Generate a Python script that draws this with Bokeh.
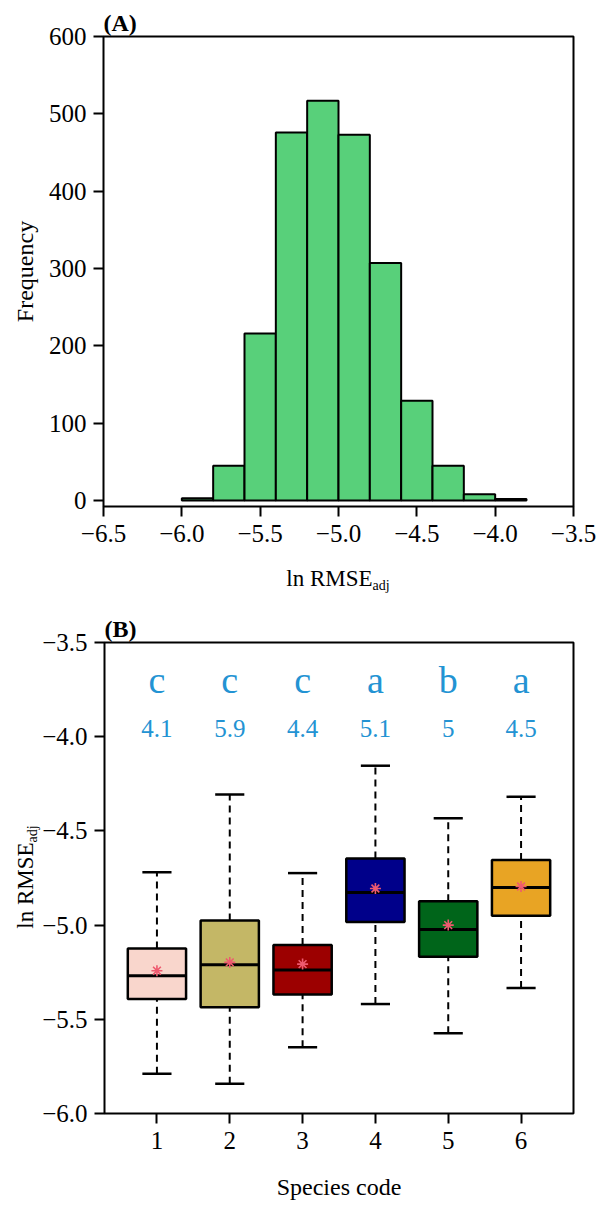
import numpy as np
from bokeh.plotting import figure
from bokeh.models import Range1d, FixedTicker, ColumnDataSource, Div
from bokeh.layouts import column, row
from bokeh.core.properties import value
from bokeh.embed import file_html
from bokeh.resources import INLINE

# ---------------- data ----------------
# Panel A: histogram of ln RMSE_adj
bin_left = [-6.0, -5.8, -5.6, -5.4, -5.2, -5.0, -4.8, -4.6, -4.4, -4.2, -4.0]
bin_right = [-5.8, -5.6, -5.4, -5.2, -5.0, -4.8, -4.6, -4.4, -4.2, -4.0, -3.8]
counts = [3, 45, 216, 476, 517, 473, 307, 129, 45, 8, 2]
a_xticks = [-6.5, -6.0, -5.5, -5.0, -4.5, -4.0, -3.5]
a_xtick_labels = ["\u22126.5", "\u22126.0", "\u22125.5", "\u22125.0", "\u22124.5", "\u22124.0", "\u22123.5"]
a_yticks = [0, 100, 200, 300, 400, 500, 600]
a_ytick_labels = ["0", "100", "200", "300", "400", "500", "600"]

# Panel B: boxplots by species
species = [1, 2, 3, 4, 5, 6]
whisker_low = [-5.789, -5.842, -5.649, -5.419, -5.574, -5.334]
q1 = [-5.392, -5.436, -5.369, -4.984, -5.168, -4.951]
median = [-5.269, -5.210, -5.238, -4.827, -5.023, -4.800]
q3 = [-5.124, -4.975, -5.106, -4.647, -4.873, -4.655]
whisker_high = [-4.719, -4.307, -4.724, -4.154, -4.433, -4.319]
means = [-5.242, -5.198, -5.207, -4.806, -5.000, -4.795]
group_letters = ["c", "c", "c", "a", "b", "a"]
group_values = ["4.1", "5.9", "4.4", "5.1", "5", "4.5"]
box_colors = ["#F9D6CC", "#C4B766", "#9C0000", "#00008A", "#00651A", "#E8A424"]
b_yticks = [-6.0, -5.5, -5.0, -4.5, -4.0, -3.5]
b_ytick_labels = ["\u22126.0", "\u22125.5", "\u22125.0", "\u22124.5", "\u22124.0", "\u22123.5"]
b_xticks = [1, 2, 3, 4, 5, 6]
b_xtick_labels = ["1", "2", "3", "4", "5", "6"]

FONT = "Liberation Serif"
TICK_FS = "25px"
LAB_FS = "24px"
BLUE = "#2393D3"


def style(p):
    p.grid.visible = False
    p.outline_line_color = "black"
    p.outline_line_width = 2
    p.background_fill_color = "white"
    p.border_fill_color = None
    for ax in (p.xaxis[0], p.yaxis[0]):
        ax.axis_line_color = None
        ax.major_tick_out = 10
        ax.major_tick_in = 0
        ax.major_tick_line_width = 2
        ax.major_tick_line_color = "black"
        ax.minor_tick_line_color = None
        ax.major_label_text_font = FONT
        ax.major_label_text_font_size = TICK_FS
        ax.major_label_text_color = "black"
        ax.axis_label_text_font = FONT
        ax.axis_label_text_font_size = LAB_FS
        ax.axis_label_text_font_style = "normal"
        ax.axis_label_text_color = "black"
    p.yaxis[0].major_label_standoff = 7
    p.xaxis[0].major_label_standoff = 8
    p.title.text_font = FONT
    p.title.text_font_size = "24px"
    p.title.text_font_style = "bold"
    p.title.text_color = "black"
    p.title.align = "left"
    p.title.standoff = 1


LABEL_CSS = ("position:absolute;white-space:nowrap;font-family:'Liberation Serif';"
             "font-size:23px;color:#000;line-height:1;")
SUB_CSS = "font-size:14px;position:relative;top:4px;"

# ---------------- Panel A ----------------
pA = figure(width=600, height=560, output_backend="svg", toolbar_location=None,
            x_range=Range1d(-6.5, -3.5), y_range=Range1d(-7.8, 600), title="(A)",
            min_border_left=103, min_border_right=27, min_border_top=36, min_border_bottom=54)
style(pA)
pA.xaxis[0].ticker = FixedTicker(ticks=a_xticks)
pA.xaxis[0].major_label_overrides = dict(zip(a_xticks, a_xtick_labels))
pA.yaxis[0].ticker = FixedTicker(ticks=a_yticks)
pA.yaxis[0].major_label_overrides = dict(zip(a_yticks, a_ytick_labels))
pA.yaxis[0].axis_label = "Frequency"
pA.yaxis[0].axis_label_standoff = 8

srcA = ColumnDataSource(dict(left=bin_left, right=bin_right, top=counts))
pA.quad(left="left", right="right", bottom=0, top="top", source=srcA,
        fill_color="#58D07A", line_color="black", line_width=2)

divA = Div(width=600, height=40, margin=(0, 0, 0, 0), styles={"overflow": "visible"},
           text=('<div style="%sleft:338px;top:18px;transform:translate(-50%%,-50%%);">'
                 'ln RMSE<span style="%s">adj</span></div>') % (LABEL_CSS, SUB_CSS))

# ---------------- Panel B ----------------
pB = figure(width=561, height=609, output_backend="svg", toolbar_location=None,
            x_range=Range1d(0.28, 6.72), y_range=Range1d(-6.0, -3.5), title="(B)",
            min_border_left=64, min_border_right=27, min_border_top=42, min_border_bottom=96)
style(pB)
pB.xaxis[0].ticker = FixedTicker(ticks=b_xticks)
pB.xaxis[0].major_label_overrides = dict(zip(b_xticks, b_xtick_labels))
pB.yaxis[0].ticker = FixedTicker(ticks=b_yticks)
pB.yaxis[0].major_label_overrides = dict(zip(b_yticks, b_ytick_labels))
pB.xaxis[0].axis_label = "Species code"
pB.xaxis[0].axis_label_standoff = 22

sp = np.array(species, dtype=float)
srcB = ColumnDataSource(dict(x=sp, left=sp - 0.4, right=sp + 0.4, cl=sp - 0.2, cr=sp + 0.2,
                             wl=whisker_low, q1=q1, med=median, q3=q3, wh=whisker_high,
                             mean=means, color=box_colors))
# whiskers (dashed)
pB.segment(x0="x", y0="q3", x1="x", y1="wh", source=srcB, line_color="black",
           line_width=2, line_dash="7 5")
pB.segment(x0="x", y0="wl", x1="x", y1="q1", source=srcB, line_color="black",
           line_width=2, line_dash="7 5")
# caps
pB.segment(x0="cl", y0="wh", x1="cr", y1="wh", source=srcB, line_color="black", line_width=2.5)
pB.segment(x0="cl", y0="wl", x1="cr", y1="wl", source=srcB, line_color="black", line_width=2.5)
# boxes
pB.quad(left="left", right="right", bottom="q1", top="q3", source=srcB,
        fill_color="color", line_color="black", line_width=2.5)
# medians
pB.segment(x0="left", y0="med", x1="right", y1="med", source=srcB, line_color="black", line_width=3)
# means
pB.scatter(x="x", y="mean", source=srcB, marker="asterisk", size=11,
           line_color="#EE5A6F", line_width=1.6)

srcT = ColumnDataSource(dict(x=species, yl=[-3.70] * 6, yv=[-3.955] * 6,
                             let=group_letters, val=group_values))
pB.text(x="x", y="yl", text="let", source=srcT, text_font=value(FONT), text_font_size="38px",
        text_align="center", text_baseline="alphabetic", text_color=BLUE)
pB.text(x="x", y="yv", text="val", source=srcT, text_font=value(FONT), text_font_size="25px",
        text_align="center", text_baseline="alphabetic", text_color=BLUE)

divB = Div(width=39, height=609, margin=(0, 0, 0, 0), styles={"overflow": "visible"},
           text=('<div style="%sleft:25px;top:277px;transform:translate(-50%%,-50%%) rotate(-90deg);">'
                 'ln RMSE<span style="%s">adj</span></div>') % (LABEL_CSS, SUB_CSS))

layout = column(pA, divA, row(divB, pB, spacing=0), spacing=0)
open("out.html", "w").write(file_html(layout, INLINE))
